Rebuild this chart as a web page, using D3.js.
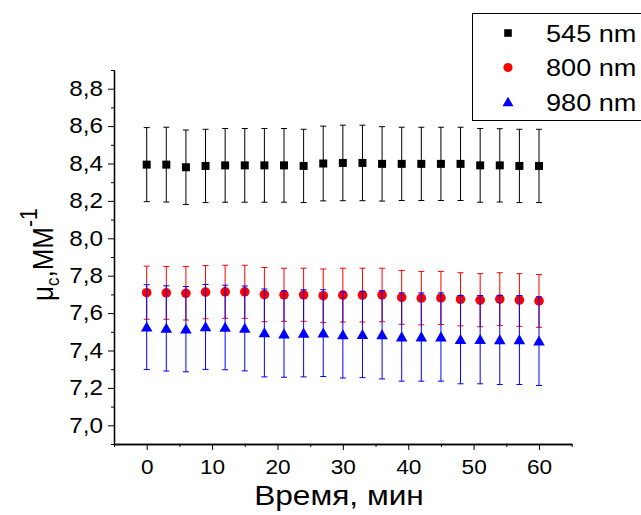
<!DOCTYPE html>
<html>
<head>
<meta charset="utf-8">
<script src="https://cdn.jsdelivr.net/npm/d3@7"></script>
<style>
	body { margin: 0; background: #fff; }
	text { font-family: "Liberation Sans", Arial, sans-serif; fill: #000; }
</style>
</head>
<body>
<div id="chart"></div>
<script>
// time points, minutes
const times = [0, 3, 6, 9, 12, 15, 18, 21, 24, 27, 30, 33, 36, 39, 42, 45, 48, 51, 54, 57, 60];

// 545 nm
const vals545 = [8.394, 8.394, 8.380, 8.387, 8.390, 8.390, 8.390, 8.390, 8.387, 8.400, 8.403,
	8.403, 8.398, 8.398, 8.398, 8.398, 8.398, 8.390, 8.390, 8.387, 8.387];
const err545 = [0.198, 0.200, 0.199, 0.196, 0.197, 0.197, 0.197, 0.197, 0.196, 0.200, 0.202,
	0.202, 0.199, 0.196, 0.196, 0.196, 0.196, 0.197, 0.196, 0.196, 0.196];

// 800 nm
const vals800 = [7.709, 7.708, 7.706, 7.712, 7.714, 7.714, 7.699, 7.698, 7.698, 7.693, 7.696,
	7.696, 7.697, 7.684, 7.680, 7.681, 7.674, 7.669, 7.675, 7.670, 7.665];
const err800 = [0.142, 0.141, 0.143, 0.142, 0.142, 0.142, 0.145, 0.142, 0.142, 0.143, 0.144,
	0.144, 0.143, 0.144, 0.143, 0.142, 0.142, 0.142, 0.141, 0.141, 0.141];

// 980 nm
const vals980 = [7.525, 7.518, 7.514, 7.526, 7.523, 7.518, 7.494, 7.488, 7.492, 7.493, 7.483,
	7.485, 7.484, 7.472, 7.472, 7.472, 7.458, 7.458, 7.456, 7.456, 7.450];
const err980 = [0.227, 0.228, 0.228, 0.227, 0.226, 0.227, 0.235, 0.231, 0.233, 0.232, 0.230,
	0.230, 0.236, 0.236, 0.236, 0.236, 0.236, 0.236, 0.238, 0.238, 0.237];

const seriesNames = ["545 nm", "800 nm", "980 nm"];
const xMajor = [0, 10, 20, 30, 40, 50, 60];
const xMinor = [-5, 5, 15, 25, 35, 45, 55, 65];
const yMajor = [7.0, 7.2, 7.4, 7.6, 7.8, 8.0, 8.2, 8.4, 8.6, 8.8];
const yMinor = [6.9, 7.1, 7.3, 7.5, 7.7, 7.9, 8.1, 8.3, 8.5, 8.7, 8.9];

const params = {
	width: 641, height: 515,
	left: 114, right: 571.7, top: 70, bottom: 444,
	stretch: 1.13   // the source picture is a bit wider than tall
};

const series = [
	{ name: seriesNames[0], values: vals545, errs: err545, color: "#000000", shape: "square" },
	{ name: seriesNames[1], values: vals800, errs: err800, color: "#ff0000", shape: "circle" },
	{ name: seriesNames[2], values: vals980, errs: err980, color: "#0000ff", shape: "triangle" }
];

// widen a text horizontally, keeping its anchor
const widen = (sel) => {
	sel.each(function () {
		const w = this.getComputedTextLength();
		d3.select(this).attr("textLength", w * params.stretch).attr("lengthAdjust", "spacingAndGlyphs");
	});
};

const svg = d3.select("#chart").append("svg")
	.attr("width", params.width)
	.attr("height", params.height);

const xScale = d3.scaleLinear().domain([-5, 65]).range([params.left, params.right]);
const yScale = d3.scaleLinear().domain([6.9, 8.9]).range([params.bottom, params.top]);

const fmt = d => d.toFixed(1).replace(".", ",");

// axes
svg.append("g")
	.attr("transform", `translate(0, ${params.bottom})`)
	.call(d3.axisBottom(xScale).tickValues(xMinor).tickSize(3).tickSizeOuter(0).tickFormat(""));
const xAxis = svg.append("g")
	.attr("transform", `translate(0, ${params.bottom})`)
	.call(d3.axisBottom(xScale).tickValues(xMajor).tickSize(6).tickSizeOuter(0).tickPadding(10));
xAxis.selectAll("text").attr("font-size", 20).call(widen);

svg.append("g")
	.attr("transform", `translate(${params.left}, 0)`)
	.call(d3.axisLeft(yScale).tickValues(yMinor).tickSize(3).tickSizeOuter(0).tickFormat(""));
const yAxis = svg.append("g")
	.attr("transform", `translate(${params.left}, 0)`)
	.call(d3.axisLeft(yScale).tickValues(yMajor).tickSize(6).tickSizeOuter(0).tickPadding(5).tickFormat(fmt));
yAxis.selectAll("text").attr("font-size", 21.5).call(widen);

svg.selectAll(".domain").attr("stroke", "#000").attr("stroke-width", 1.3);
svg.selectAll(".tick line").attr("stroke", "#000");

// axis titles
svg.append("text")
	.attr("x", 339).attr("y", 505)
	.attr("text-anchor", "middle")
	.attr("font-size", 28)
	.text("Время, мин")
	.call(widen);

const yLab = svg.append("text")
	.attr("transform", `translate(53, 301) scale(${params.stretch}, 1) rotate(-90)`)
	.attr("font-size", 26);
yLab.append("tspan").text("μ");
yLab.append("tspan").attr("font-size", 17).attr("dy", 5).text("c");
yLab.append("tspan").attr("dy", -5).text(",ММ");
yLab.append("tspan").attr("font-size", 21).attr("dy", -14).text("-1");

// markers
const symbolFor = (shape, size) => {
	if (shape == "square") return d3.symbol().type(d3.symbolSquare).size(size * size)();
	if (shape == "circle") return d3.symbol().type(d3.symbolCircle).size(Math.PI * size * size / 4)();
	return d3.symbol().type(d3.symbolTriangle).size(size * size * 0.48)();
};
const markerSize = { square: 8, circle: 9.6, triangle: 11 };

const capW = 3;
for (let s of series) {
	const g = svg.append("g").attr("class", "series");
	const rows = times.map((t, i) => ({ t: t, v: s.values[i], e: s.errs[i] }));

	g.selectAll(".bar").data(rows).join("line")
		.attr("x1", d => xScale(d.t)).attr("x2", d => xScale(d.t))
		.attr("y1", d => yScale(d.v - d.e)).attr("y2", d => yScale(d.v + d.e))
		.attr("stroke", s.color).attr("stroke-width", 1);
	g.selectAll(".capTop").data(rows).join("line")
		.attr("x1", d => xScale(d.t) - capW).attr("x2", d => xScale(d.t) + capW)
		.attr("y1", d => yScale(d.v + d.e)).attr("y2", d => yScale(d.v + d.e))
		.attr("stroke", s.color).attr("stroke-width", 1);
	g.selectAll(".capBot").data(rows).join("line")
		.attr("x1", d => xScale(d.t) - capW).attr("x2", d => xScale(d.t) + capW)
		.attr("y1", d => yScale(d.v - d.e)).attr("y2", d => yScale(d.v - d.e))
		.attr("stroke", s.color).attr("stroke-width", 1);

	g.selectAll(".pt").data(rows).join("path")
		.attr("d", symbolFor(s.shape, markerSize[s.shape]))
		.attr("transform", d => `translate(${xScale(d.t)}, ${yScale(d.v) + (s.shape == "triangle" ? 1 : 0)})`)
		.attr("fill", s.color);
}

// legend
const legend = svg.append("g");
legend.append("rect")
	.attr("x", 472.5).attr("y", 13.5)
	.attr("width", 200).attr("height", 107)
	.attr("fill", "#fff").attr("stroke", "#000").attr("stroke-width", 1);
series.forEach((s, i) => {
	const cy = 33 + i * 34.5;
	legend.append("path")
		.attr("d", symbolFor(s.shape, markerSize[s.shape] * 0.95))
		.attr("transform", `translate(508, ${cy + (s.shape == "triangle" ? 1 : 0)})`)
		.attr("fill", s.color);
	legend.append("text")
		.attr("x", 546).attr("y", cy + 8.5)
		.attr("font-size", 24)
		.text(s.name)
		.call(widen);
});
</script>
</body>
</html>
